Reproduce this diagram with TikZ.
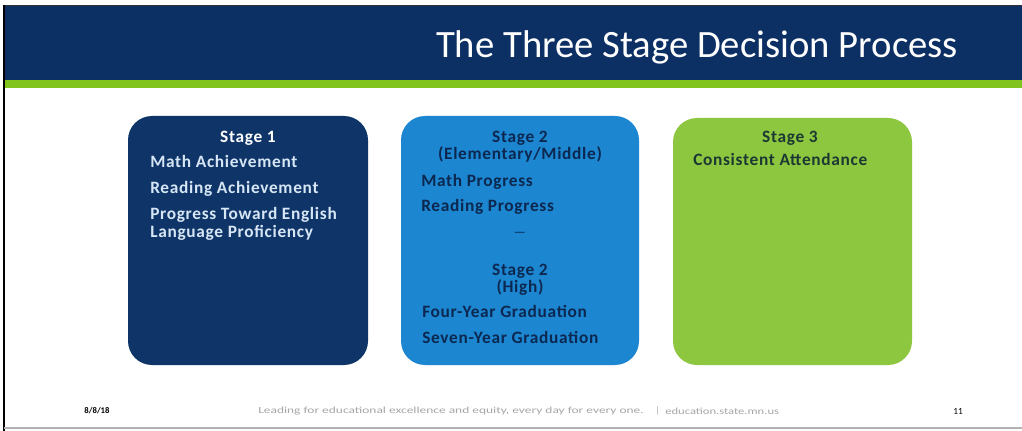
\documentclass[tikz,border=0pt]{standalone}
\usepackage{fontspec}
\setmainfont{Carlito}
\definecolor{navy}{RGB}{12,48,100}
\definecolor{boxnavy}{RGB}{14,52,104}
\definecolor{boxblue}{RGB}{28,134,208}
\definecolor{lime}{RGB}{141,198,63}
\definecolor{stripe}{RGB}{130,196,30}
\definecolor{btext}{RGB}{12,40,80}
\definecolor{gtext}{RGB}{28,56,50}
\definecolor{s1text}{RGB}{215,230,245}
\newfontfamily\boxfont[LetterSpace=4]{Carlito}
\tikzset{
  stagebox/.style={rounded corners=24*0.75pt, inner sep=0pt},
  head/.style={font=\boxfont\fontsize{13}{13}\selectfont\bfseries, anchor=center},
  item/.style={font=\boxfont\fontsize{13}{13.5}\selectfont\bfseries, anchor=west, inner sep=0pt},
  foot/.style={font=\fontsize{7}{8}\selectfont, text=gray!70, inner sep=0pt},
}
\begin{document}
\begin{tikzpicture}[x=0.75pt,y=-0.75pt]
\useasboundingbox (0,0) rectangle (1022,431);
\fill[white] (0,0) rectangle (1022,431);
% header
\fill[navy] (4,6) rectangle (1022,80);
\fill[stripe] (4,80) rectangle (1022,88);
\draw[black!80, line width=0.6pt] (4,5) -- (1022,5);
\draw[black, line width=2pt] (4,5) -- (4,431);
\draw[gray!60, line width=1pt] (4,428) -- (1022,428);
\node[text=white, font=\fontsize{29}{33}\selectfont, anchor=center] (title) at (697,47) {The Three Stage Decision Process};
% boxes
\fill[boxnavy, stagebox] (128,116) rectangle (368,365);
\fill[boxblue, stagebox] (401,116) rectangle (639,365);
\fill[lime, stagebox] (673,118) rectangle (912,365);
% stage 1
\node[head, text=white] (s1h) at (248,138) {Stage 1};
\node[item, text=s1text] (s1a) at (150,161) {Math Achievement};
\node[item, text=s1text] (s1b) at (150,189) {Reading Achievement};
\node[item, text=s1text, align=left] (s1c) at (150,224) {Progress Toward English\\Language Proficiency};
% stage 2
\node[head, text=btext, align=center] (s2h) at (520,147) {Stage 2\\(Elementary/Middle)};
\node[item, text=btext] (s2a) at (421,182) {Math Progress};
\node[item, text=btext] (s2b) at (421,207) {Reading Progress};
\node[text=btext, font=\fontsize{10}{10}\selectfont, anchor=center] (s2d) at (520,234) {—};
\node[head, text=btext, align=center] (s2i) at (520,280) {Stage 2\\(High)};
\node[item, text=btext] (s2e) at (422,311) {Four-Year Graduation};
\node[item, text=btext] (s2f) at (422,337) {Seven-Year Graduation};
% stage 3
\node[head, text=gtext] (s3h) at (790,138) {Stage 3};
\node[item, text=gtext] (s3a) at (693,159) {Consistent Attendance};
% footer
\node[foot, text=black, font=\fontsize{6.5}{7}\selectfont\bfseries] (date) at (97,411) {8/8/18};
\node[foot, anchor=west] (tag) at (258,411) {\scalebox{1.44}[1]{Leading for educational excellence and equity, every day for every one.}};
\node[foot, anchor=west] (bar) at (655,411) {|};
\node[foot, anchor=west] (url) at (665,411) {\scalebox{1.35}[1]{education.state.mn.us}};
\node[foot, text=black] (pg) at (958,411) {11};
\end{tikzpicture}
\end{document}
